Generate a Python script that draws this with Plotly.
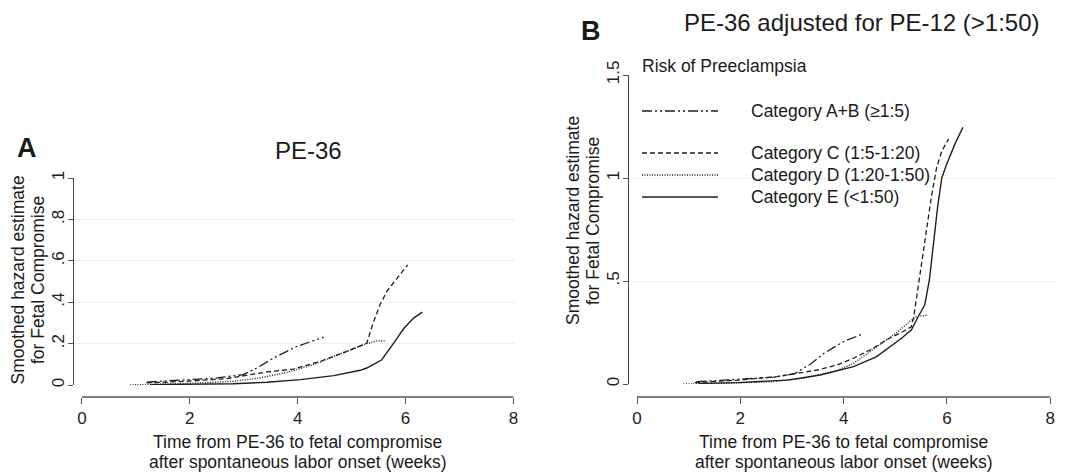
import plotly.graph_objects as go

W, H = 1068, 474
OX, OY = 8, 8   # page body margin offset of the rendered figure

# ---------------- data ----------------
categories = ["Category A+B (\u22651:5)", "Category C (1:5-1:20)",
              "Category D (1:20-1:50)", "Category E (<1:50)"]

# Panel A: PE-36
A_AB_x = [1.20, 1.94, 2.50, 2.99, 3.24, 3.55, 3.98, 4.48]
A_AB_y = [0.014, 0.026, 0.034, 0.050, 0.082, 0.130, 0.186, 0.231]
A_C_x = [1.20, 1.94, 2.68, 3.05, 3.43, 3.92, 4.42, 4.91, 5.28, 5.40, 5.53, 5.66, 5.84, 6.04]
A_C_y = [0.010, 0.018, 0.031, 0.047, 0.063, 0.077, 0.114, 0.162, 0.202, 0.300, 0.390, 0.455, 0.515, 0.580]
A_D_x = [0.89, 1.57, 2.19, 2.81, 3.30, 3.80, 4.29, 4.79, 5.16, 5.28, 5.47, 5.63]
A_D_y = [0.0, 0.005, 0.010, 0.018, 0.034, 0.061, 0.098, 0.151, 0.189, 0.200, 0.213, 0.212]
A_E_x = [1.26, 2.19, 2.81, 3.43, 4.05, 4.67, 5.16, 5.28, 5.56, 5.78, 5.97, 6.15, 6.31]
A_E_y = [0.002, 0.003, 0.006, 0.013, 0.026, 0.045, 0.071, 0.082, 0.122, 0.202, 0.274, 0.323, 0.352]

# Panel B: PE-36 adjusted for PE-12 (>1:50)
B_AB_x = [1.15, 1.95, 2.65, 3.05, 3.36, 3.62, 4.00, 4.38]
B_AB_y = [0.011, 0.023, 0.033, 0.050, 0.097, 0.149, 0.206, 0.244]
B_C_x = [1.12, 1.96, 2.72, 3.11, 3.49, 3.87, 4.19, 4.51, 4.83, 5.15, 5.31, 5.36, 5.42,
         5.50, 5.60, 5.70, 5.80, 5.90, 6.03]
B_C_y = [0.007, 0.019, 0.036, 0.052, 0.068, 0.092, 0.125, 0.165, 0.214, 0.255, 0.278, 0.33, 0.43,
         0.57, 0.74, 0.91, 1.05, 1.13, 1.19]
B_D_x = [0.90, 1.64, 2.59, 3.23, 3.87, 4.19, 4.51, 4.77, 5.02, 5.28, 5.41, 5.63]
B_D_y = [0.0, 0.003, 0.011, 0.028, 0.065, 0.100, 0.157, 0.205, 0.249, 0.303, 0.327, 0.335]
B_E_x = [1.19, 1.96, 2.91, 3.55, 4.19, 4.64, 5.12, 5.31, 5.45, 5.57, 5.66, 5.74, 5.82,
         5.90, 6.00, 6.16, 6.31]
B_E_y = [0.003, 0.0065, 0.019, 0.044, 0.084, 0.133, 0.222, 0.262, 0.33, 0.383, 0.505, 0.70, 0.86,
         1.0, 1.07, 1.168, 1.246]

x_ticks = [0, 2, 4, 6, 8]
A_y_ticks = [0, 0.2, 0.4, 0.6, 0.8, 1.0]
A_y_ticktext = ["0", ".2", ".4", ".6", ".8", "1"]
B_y_ticks = [0, 0.5, 1.0, 1.5]
B_y_ticktext = ["0", ".5", "1", "1.5"]

# ---------------- styling ----------------
FONT = "Liberation Sans, Arial, sans-serif"
LINE_COLOR = "#1e1e1e"
dashes = ["10px,3px,2px,3px,2px,3px", "5px,3px", "1px,1.5px", "solid"]
widths = [1.3, 1.3, 1.4, 1.4]

def px_x(p):
    return (p - OX) / W

def px_y(p):
    return 1 - (p - OY) / H

fig = go.Figure()

panels = [
    ("x", "y", [(A_AB_x, A_AB_y), (A_C_x, A_C_y), (A_D_x, A_D_y), (A_E_x, A_E_y)]),
    ("x2", "y2", [(B_AB_x, B_AB_y), (B_C_x, B_C_y), (B_D_x, B_D_y), (B_E_x, B_E_y)]),
]
for xa, ya, series in panels:
    for i, (xs, ys) in enumerate(series):
        fig.add_trace(go.Scatter(
            x=xs, y=ys, mode="lines", name=categories[i], xaxis=xa, yaxis=ya,
            line=dict(color=LINE_COLOR, width=widths[i], dash=dashes[i]),
            showlegend=False, hoverinfo="skip"))

axis_y_pos = px_y(397)
common_x = dict(tickvals=x_ticks, ticks="outside", ticklen=6, tickcolor="#555",
                tickwidth=1.2, showline=False, showgrid=False, zeroline=False,
                anchor="free", position=axis_y_pos, automargin=False,
                tickfont=dict(size=17, color="#222", family=FONT))
common_y = dict(ticks="outside", ticklen=5, tickcolor="#555", tickwidth=1.2,
                showline=True, linecolor="#444", linewidth=1.2, automargin=False,
                showgrid=True, gridcolor="#eeeeee", gridwidth=1, zeroline=False,
                tickangle=-90, ticklabelstandoff=-3,
                tickfont=dict(size=17, color="#222", family=FONT))

fig.update_layout(
    template="none",
    width=W, height=H, autosize=False,
    margin=dict(l=0, r=0, t=0, b=0, pad=0),
    paper_bgcolor="white", plot_bgcolor="white",
    font=dict(family=FONT, color="#222"),
    showlegend=False,
    xaxis=dict(domain=[px_x(74), px_x(515)], range=[-0.148, 8.03], **common_x),
    yaxis=dict(domain=[px_y(385), px_y(178)], range=[0, 1], anchor="x",
               tickvals=A_y_ticks, ticktext=A_y_ticktext, **common_y),
    xaxis2=dict(domain=[px_x(629), px_x(1058)], range=[-0.155, 8.15], **common_x),
    yaxis2=dict(domain=[px_y(384), px_y(75)], range=[0, 1.5], anchor="x2",
                tickvals=B_y_ticks, ticktext=B_y_ticktext, **common_y),
)

# separate x-axis lines (Stata style, spanning 0..8)
for xr in ["x", "x2"]:
    fig.add_shape(type="line", xref=xr, yref="paper", x0=0, x1=8,
                  y0=axis_y_pos, y1=axis_y_pos, line=dict(color="#555", width=1.3))

ann = []
def add_text(text, x, y, size, xref="paper", xanchor="center", yanchor="middle",
             bold=False, angle=0):
    ann.append(dict(text=("<b>%s</b>" % text) if bold else text, x=x, y=y,
                    xref=xref, yref="paper", xanchor=xanchor, yanchor=yanchor,
                    showarrow=False, textangle=angle, borderpad=0,
                    font=dict(size=size, family=FONT, color="#1a1a1a")))

# panel letters & titles
add_text("A", px_x(27), px_y(148), 27, bold=True)
add_text("B", px_x(591), px_y(31), 27, bold=True)
add_text("PE-36", px_x(308), px_y(150), 24)
add_text("PE-36 adjusted for PE-12 (>1:50)", px_x(862), 1.0, 24, yanchor="top")

# x titles
for xr in ["x", "x2"]:
    add_text("Time from PE-36 to fetal compromise", 4, px_y(442), 17.5, xref=xr)
    add_text("after spontaneous labor onset (weeks)", 4, px_y(462), 17.5, xref=xr)

# y titles
add_text("Smoothed hazard estimate", px_x(17.5), px_y(280), 17.5, angle=-90)
add_text("for Fetal Compromise", px_x(38), px_y(280), 17.5, angle=-90)
add_text("Smoothed hazard estimate", px_x(573), px_y(221), 17.5, angle=-90)
add_text("for Fetal Compromise", px_x(593), px_y(221), 17.5, angle=-90)

# legend (panel B)
add_text("Risk of Preeclampsia", px_x(641), px_y(66), 17.5, xanchor="left")
leg_y = [111, 153, 175, 197]
for i, cat in enumerate(categories):
    add_text(cat, px_x(750), px_y(leg_y[i]), 17.5, xanchor="left")
    fig.add_shape(type="line", xref="paper", yref="paper",
                  x0=px_x(642), x1=px_x(718), y0=px_y(leg_y[i]), y1=px_y(leg_y[i]),
                  line=dict(color=LINE_COLOR, width=widths[i], dash=dashes[i]))

fig.update_layout(annotations=ann)
fig.write_html("out.html")
